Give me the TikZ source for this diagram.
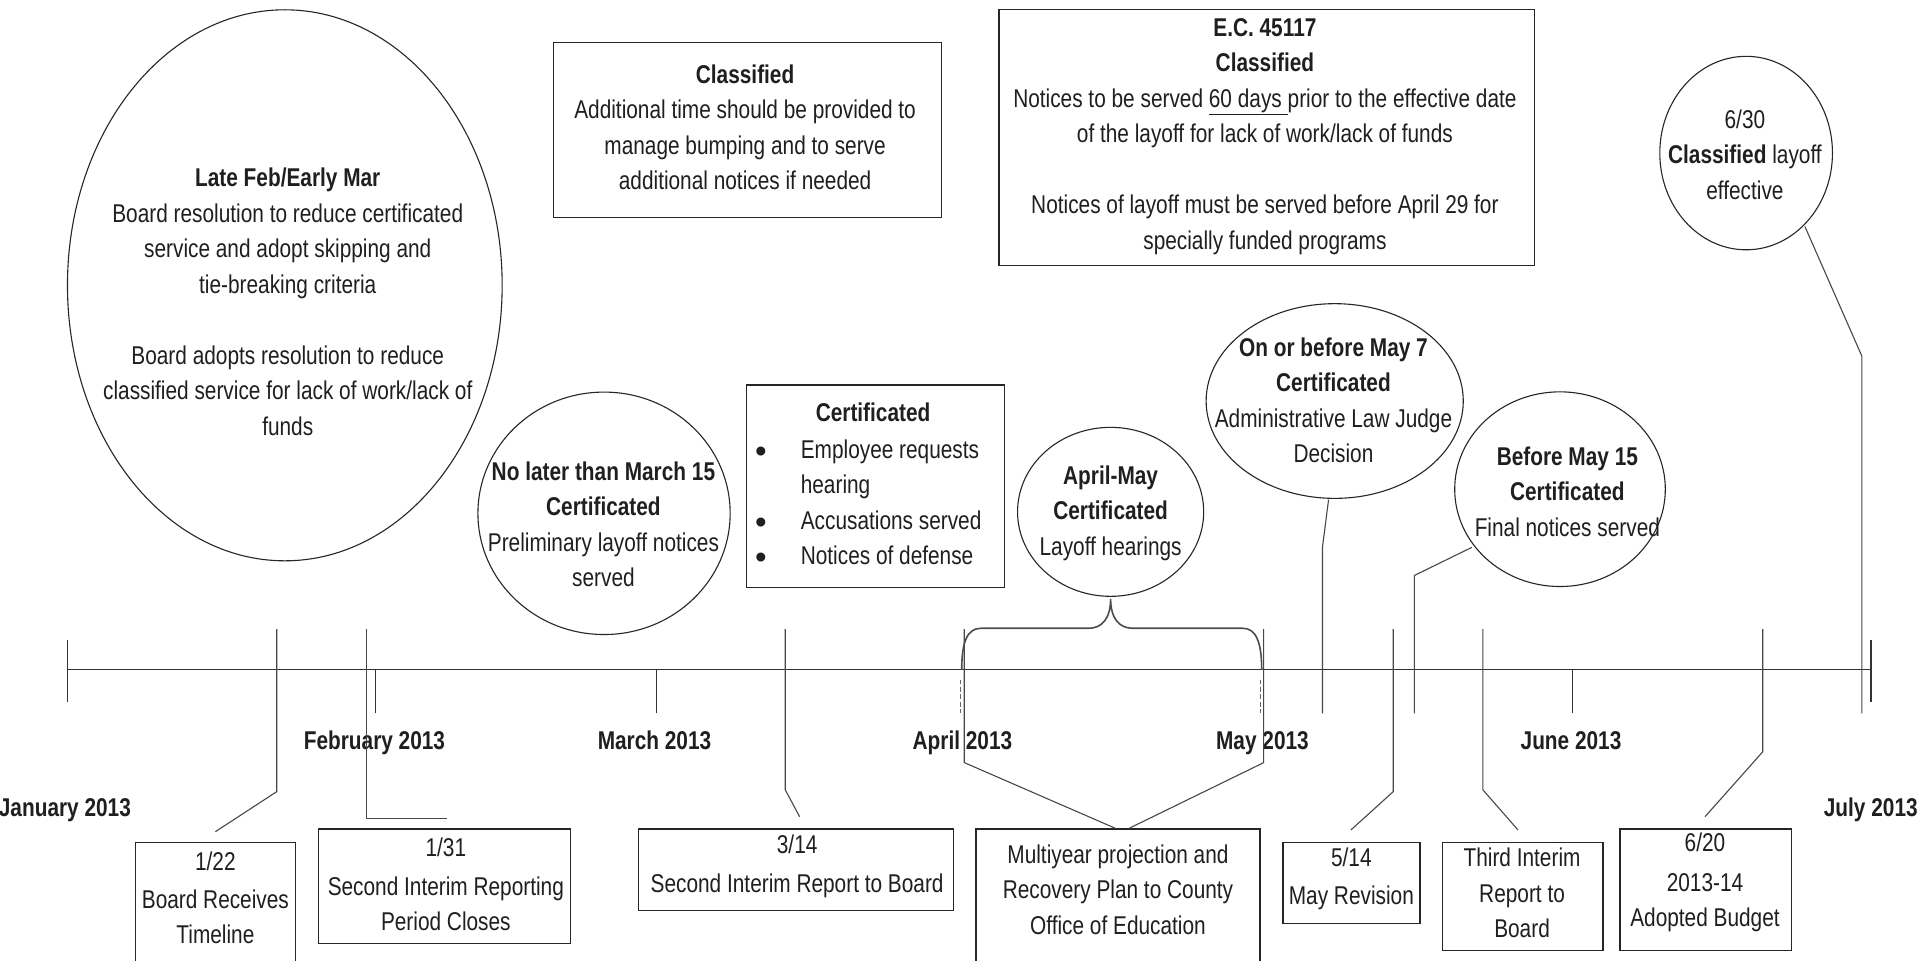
\documentclass[tikz,border=0pt]{standalone}
\usepackage{fontspec}
\setmainfont{Liberation Sans}[FakeStretch=0.81]
\newfontfamily\bulletfont{Liberation Sans}
\usetikzlibrary{shapes.geometric}
\newcommand\mystrut{\rule{0pt}{16pt}}
\newcommand\bigbullet{{\bulletfont\fontsize{27}{29}\selectfont •}}
\begin{document}
\begin{tikzpicture}[x=1pt,y=-1pt,
  txt/.style={inner sep=0pt, outer sep=0pt, align=center, text=black!88, font=\fontsize{21}{29}\selectfont, anchor=north},
  mon/.style={txt, font=\bfseries\fontsize{21}{29}\selectfont},
  boxshape/.style={draw=black!85, line width=1.1pt, inner sep=0pt, outer sep=0pt, rectangle},
  ellshape/.style={draw=black!85, line width=0.9pt, inner sep=0pt, outer sep=0pt, ellipse},
  conn/.style={draw=black!72, line width=0.9pt},
  tickline/.style={draw=black!80, line width=0.9pt},
  bracestyle/.style={draw=black!70, line width=1.3pt},
  dashline/.style={draw=black!60, line width=0.8pt, dashed, dash pattern=on 4pt off 2pt}]
\useasboundingbox (0,0) rectangle (1568,784);
\fill[white] (0,0) rectangle (1568,784);

% ---------- upper shapes ----------
\node[ellshape, minimum width=355pt, minimum height=450pt] (E1) at (232.6,233) {};
\node[boxshape, minimum width=317.2pt, minimum height=143.2pt] (B1) at (610.4,106.2) {};
\node[boxshape, minimum width=437.5pt, minimum height=209.4pt] (B2) at (1034.5,112.3) {};
\node[ellshape, minimum width=141pt, minimum height=158pt] (E6) at (1426,125) {};
\node[ellshape, minimum width=206pt, minimum height=198pt] (E3) at (493.3,419.2) {};
\node[boxshape, minimum width=210.6pt, minimum height=165.5pt] (B3) at (715.1,397.2) {};
\node[ellshape, minimum width=152pt, minimum height=138pt] (E4) at (907,418) {};
\node[ellshape, minimum width=210pt, minimum height=159pt] (E5) at (1090,327.5) {};
\node[ellshape, minimum width=172pt, minimum height=159pt] (E7) at (1274,399.5) {};

% ---------- lower boxes ----------
\node[boxshape, minimum width=130.8pt, minimum height=112pt] (D1) at (176.1,744) {};
\node[boxshape, minimum width=205.6pt, minimum height=93.4pt] (D2) at (363,723.7) {};
\node[boxshape, minimum width=257.1pt, minimum height=66.7pt] (D3) at (650.25,710.35) {};
\node[boxshape, minimum width=232pt, minimum height=124pt] (D4) at (913,739) {};
\node[boxshape, minimum width=112pt, minimum height=66pt] (D5) at (1103.7,721) {};
\node[boxshape, minimum width=131.2pt, minimum height=88.4pt] (D6) at (1243.5,732.2) {};
\node[boxshape, minimum width=140pt, minimum height=99.4pt] (D7) at (1393,726.7) {};

% ---------- texts ----------
\node[txt] (T1) at (235,136.5) {\mystrut\textbf{Late Feb/Early Mar}\\Board resolution to reduce certificated\\service and adopt skipping and\\tie-breaking criteria\\[29pt]Board adopts resolution to reduce\\classified service for lack of work/lack of\\funds};
\node[txt] (T2) at (608.5,52) {\mystrut\textbf{Classified}\\Additional time should be provided to\\manage bumping and to serve\\additional notices if needed};
\node[txt] (T3) at (1033,13.4) {\mystrut\textbf{E.C. 45117}\\\textbf{Classified}\\Notices to be served \underline{60 days }prior to the effective date\\of the layoff for lack of work/lack of funds\\[29pt]Notices of layoff must be served before April 29 for\\specially funded programs};
\node[txt] (T6) at (1425,88.7) {\mystrut 6/30\\\textbf{Classified} layoff\\effective};
\node[txt] (T4) at (492.8,376) {\mystrut\textbf{No later than March 15}\\\textbf{Certificated}\\Preliminary layoff notices\\served};
\node[txt] (T5) at (713,328) {\mystrut\textbf{Certificated}};
\node[txt] (T5b) at (621.5,361.3) {\mystrut\bigbullet\\[29pt]\mystrut\bigbullet\\\mystrut\bigbullet};
\node[txt, anchor=north west, align=left] (T5i) at (654,358.3) {\mystrut Employee requests\\hearing\\Accusations served\\Notices of defense};
\node[txt] (T7) at (907,379.5) {\mystrut\textbf{April-May}\\\textbf{Certificated}\\Layoff hearings};
\node[txt] (T8) at (1089,275) {\mystrut\textbf{On or before May 7}\\\textbf{Certificated}\\Administrative Law Judge\\Decision};
\node[txt] (T9) at (1280,364) {\mystrut\textbf{Before May 15}\\\textbf{Certificated}\\Final notices served};

\node[txt] (U1) at (175.9,694.5) {\mystrut 1/22\\[2.3pt]Board Receives\\Timeline};
\node[txt] (U2) at (364.1,683.6) {\mystrut 1/31\\[2.4pt]Second Interim Reporting\\Period Closes};
\node[txt] (U3) at (651,680.9) {\mystrut 3/14\\[3pt]Second Interim Report to Board};
\node[txt] (U4) at (913,689) {\mystrut Multiyear projection and\\Recovery Plan to County\\Office of Education};
\node[txt] (U5) at (1103.6,691.8) {\mystrut 5/14\\[2pt]May Revision};
\node[txt] (U6) at (1243,691.8) {\mystrut Third Interim\\Report to\\Board};
\node[txt] (U7) at (1392.4,679.5) {\mystrut 6/20\\[3.5pt]2013-14\\Adopted Budget};

% ---------- month labels ----------
\node[mon] (Mjan) at (53,651) {\mystrut January 2013};
\node[mon] (Mfeb) at (305.8,595.7) {\mystrut February 2013};
\node[mon] (Mmar) at (534.5,595.7) {\mystrut March 2013};
\node[mon] (Mapr) at (786,595.7) {\mystrut April 2013};
\node[mon] (Mmay) at (1031,595.7) {\mystrut May 2013};
\node[mon] (Mjun) at (1283,595.7) {\mystrut June 2013};
\node[mon] (Mjul) at (1527.8,651) {\mystrut July 2013};

% ---------- axis ----------
\coordinate (A0) at (54.9,547);
\coordinate (A1) at (1528,547);
\draw[tickline, line width=1pt] (A0) -- (A1);
\draw[tickline] (54.9,523) -- (54.9,573);
\draw[tickline] (1528,523) -- (1528,573);
\draw[tickline] (306.6,547) -- (306.6,582.5);
\draw[tickline] (536,547) -- (536,582.5);
\draw[tickline] (1284,547) -- (1284,582.5);

% ---------- connectors ----------
\coordinate (c1a) at (226,513.7);   \coordinate (c1b) at (226,646.5);   \coordinate (c1c) at (175.9,679.2);
\coordinate (c2a) at (299.2,513.7); \coordinate (c2b) at (299.2,668.3); \coordinate (c2c) at (364.8,668.3);
\coordinate (c3a) at (641.3,513.7); \coordinate (c3b) at (641.3,645);   \coordinate (c3c) at (653,667);
\coordinate (c4a) at (787.5,513.7); \coordinate (c4b) at (787.5,622.8); \coordinate (c4c) at (911,676.5);
\coordinate (c5a) at (1032,513.7);  \coordinate (c5b) at (1032,622.8);  \coordinate (c5c) at (922,676.5);
\coordinate (c6a) at (1085,408);    \coordinate (c6b) at (1080,447);    \coordinate (c6c) at (1080,582.5);
\coordinate (c7a) at (1137.8,513.7);\coordinate (c7b) at (1137.8,646.5);\coordinate (c7c) at (1103.2,677.8);
\coordinate (c8a) at (1202,447);    \coordinate (c8b) at (1155,470);    \coordinate (c8c) at (1155,582.5);
\coordinate (c9a) at (1211,513.7);  \coordinate (c9b) at (1211,645);    \coordinate (c9c) at (1239.7,677.8);
\coordinate (c10a) at (1439.6,513.7);\coordinate (c10b) at (1439.6,613.9);\coordinate (c10c) at (1392.4,667);
\coordinate (c11a) at (1474,185);   \coordinate (c11b) at (1520.5,290.8);\coordinate (c11c) at (1520.5,582.5);

\draw[conn] (c1a) -- (c1b) -- (c1c);
\draw[conn] (c2a) -- (c2b) -- (c2c);
\draw[conn] (c3a) -- (c3b) -- (c3c);
\draw[conn] (c4a) -- (c4b) -- (c4c);
\draw[conn] (c5a) -- (c5b) -- (c5c);
\draw[conn] (c6a) -- (c6b) -- (c6c);
\draw[conn] (c7a) -- (c7b) -- (c7c);
\draw[conn] (c8a) -- (c8b) -- (c8c);
\draw[conn] (c9a) -- (c9b) -- (c9c);
\draw[conn] (c10a) -- (c10b) -- (c10c);
\draw[conn] (c11a) -- (c11b) -- (c11c);

% ---------- brace ----------
\coordinate (br0) at (785.4,547);
\coordinate (br1) at (801,513.1);
\coordinate (br2) at (889,513.1);
\coordinate (brt) at (907,489);
\coordinate (br3) at (925,513.1);
\coordinate (br4) at (1015,513.1);
\coordinate (br5) at (1030.4,547);
\draw[bracestyle] (br0) .. controls (785.4,524) and (790,513.1) .. (br1) -- (br2)
  .. controls (900,513.1) and (907,505) .. (brt)
  .. controls (907,505) and (914,513.1) .. (br3) -- (br4)
  .. controls (1025.5,513.1) and (1030.4,524) .. (br5);

% ---------- dashed marks ----------
\draw[dashline] (784.6,555) -- (784.6,582.5);
\draw[dashline] (1029,555) -- (1029,582.5);
\end{tikzpicture}
\end{document}
